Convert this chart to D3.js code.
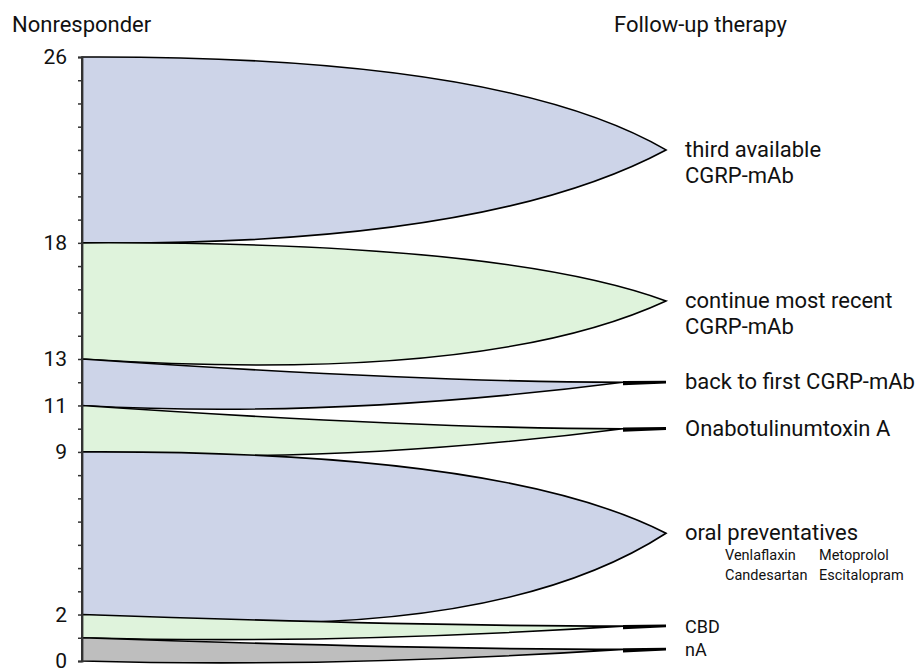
<!DOCTYPE html>
<html>
<head>
<meta charset="utf-8">
<script src="https://cdn.jsdelivr.net/npm/d3@7"></script>
<style>
  html, body { margin: 0; padding: 0; background: #fff; }
  svg { display: block; font-family: Roboto, "Noto Sans", sans-serif; }
</style>
</head>
<body>
<svg id="chart" width="921" height="672"></svg>
<script>
// ---- data ----
const therapyLabels = [
  ["third available", "CGRP-mAb"],
  ["continue most recent", "CGRP-mAb"],
  ["back to first CGRP-mAb"],
  ["Onabotulinumtoxin A"],
  ["oral preventatives"],
  ["CBD"],
  ["nA"]
];
const counts = [8, 5, 2, 2, 7, 1, 1];
const bandColors = ["#cdd4e8", "#dff3dc", "#cdd4e8", "#dff3dc", "#cdd4e8", "#dff3dc", "#bebebe"];
const labeledTicks = [0, 2, 9, 11, 13, 18, 26];
const oralDrugs = ["Venlaflaxin", "Metoprolol", "Candesartan", "Escitalopram"];
const axisTitle = "Nonresponder";
const targetTitle = "Follow-up therapy";

// ---- layout ----
const svg = d3.select("#chart");
const total = d3.sum(counts);
const y = d3.scaleLinear().domain([0, total]).range([661, 57]);
const xLeft = 82, xTip = 666, xNarrowTip = 623;

// stack bands from top
let acc = total;
const bands = counts.map((c, i) => {
  const top = acc, bottom = acc - c;
  acc = bottom;
  return { i, c, top, bottom, label: therapyLabels[i], color: bandColors[i] };
});
const maxCount = d3.max(counts);

function bandPath(b) {
  const yT = y(b.top), yB = y(b.bottom), mid = (yT + yB) / 2, h = yB - yT;
  const p = d3.path();
  if (b.c >= 5) {
    const L = xTip - xLeft;
    const dip = b.c === maxCount ? 4 : 0.22 * h;
    p.moveTo(xLeft, yT);
    p.quadraticCurveTo(xLeft + 0.72 * L, yT - 2, xTip, mid);
    p.quadraticCurveTo(xLeft + 0.69 * L, yB + dip, xLeft, yB);
  } else {
    const L = xNarrowTip - xLeft;
    p.moveTo(xLeft, yT);
    p.quadraticCurveTo(xLeft + 0.63 * L, mid, xNarrowTip, mid);
    p.quadraticCurveTo(xLeft + 0.46 * L, yB + 0.6 * (yB - mid), xLeft, yB);
  }
  p.closePath();
  return p.toString();
}

const g = svg.append("g");
g.selectAll("path.band")
  .data(bands)
  .join("path")
  .attr("class", "band")
  .attr("d", bandPath)
  .attr("fill", d => d.color)
  .attr("stroke", "#000")
  .attr("stroke-width", 1.6)
  .attr("stroke-linejoin", "miter");

// tails for narrow bands
g.selectAll("path.tail")
  .data(bands.filter(b => b.c < 5))
  .join("path")
  .attr("class", "tail")
  .attr("d", b => {
    const mid = (y(b.top) + y(b.bottom)) / 2;
    return `M${xNarrowTip},${mid - 1.2}L${xTip},${mid - 1.6}L${xTip},${mid + 1.2}L${xNarrowTip},${mid + 3}Z`;
  })
  .attr("fill", "#000");

// axis
const axis = d3.axisLeft(y)
  .tickValues(d3.range(0, total + 1))
  .tickSize(4)
  .tickFormat(d => labeledTicks.includes(d) ? d : "");
const ax = svg.append("g").attr("transform", `translate(${xLeft},0)`).call(axis);
ax.select(".domain").attr("stroke", "#333").attr("stroke-width", 1.8);
ax.selectAll(".tick line").attr("stroke", "#333").attr("stroke-width", 1.5);
ax.selectAll(".tick text")
  .attr("x", -15)
  .attr("font-size", 21)
  .attr("font-family", "Roboto, sans-serif")
  .attr("fill", "#111");

// titles
svg.append("text").attr("x", 12).attr("y", 32).attr("font-size", 22).attr("fill", "#111").text(axisTitle);
svg.append("text").attr("x", 614).attr("y", 32).attr("font-size", 22).attr("fill", "#111").text(targetTitle);

// right labels
bands.forEach(b => {
  const mid = (y(b.top) + y(b.bottom)) / 2;
  const small = b.c === 1;
  const t = svg.append("text")
    .attr("x", 685)
    .attr("y", mid + (small ? 6.5 : 7))
    .attr("font-size", small ? 18 : 22)
    .attr("fill", "#111");
  b.label.forEach((line, k) => {
    t.append("tspan").attr("x", 685).attr("dy", k === 0 ? 0 : 26).text(line);
  });
});

// oral preventatives subtext
const oralMid = (y(bands[4].top) + y(bands[4].bottom)) / 2;
const drugX = [725, 819];
oralDrugs.forEach((name, k) => {
  svg.append("text")
    .attr("x", drugX[k % 2])
    .attr("y", oralMid + 27 + Math.floor(k / 2) * 20)
    .attr("font-size", 14.5)
    .attr("fill", "#111")
    .text(name);
});
</script>
</body>
</html>
